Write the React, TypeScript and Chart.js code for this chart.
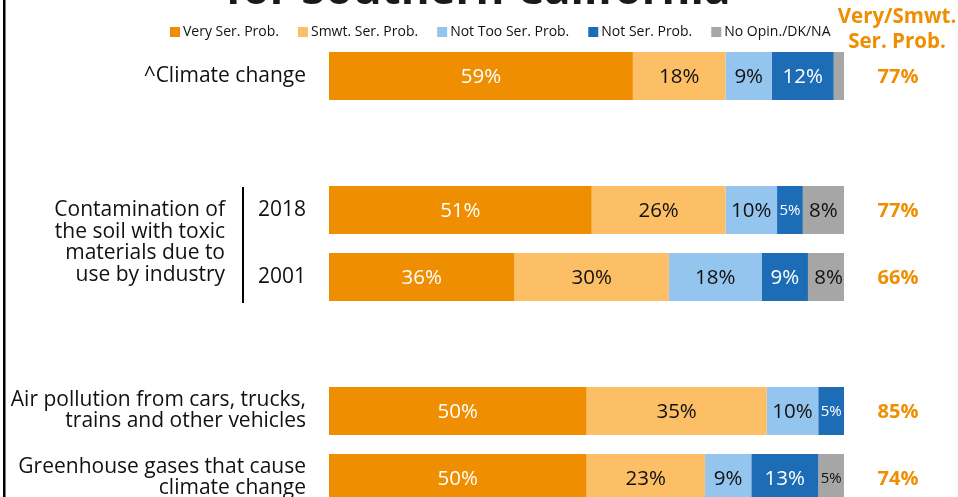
import React, { useEffect, useRef } from "react";
import { Chart, registerables } from "chart.js";

Chart.register(...registerables);

const categories: (string | string[])[] = [
  "^Climate change",
  "",
  "2018",
  "2001",
  "",
  ["Air pollution from cars, trucks,", "trains and other vehicles"],
  ["Greenhouse gases that cause", "climate change"],
];
const seriesNames = ["Very Ser. Prob.", "Smwt. Ser. Prob.", "Not Too Ser. Prob.", "Not Ser. Prob.", "No Opin./DK/NA"];
const veryValues = [59, null, 51, 36, null, 50, 50];
const smwtValues = [18, null, 26, 30, null, 35, 23];
const notTooValues = [9, null, 10, 18, null, 10, 9];
const notSerValues = [12, null, 5, 9, null, 5, 13];
const noOpinValues = [2, null, 8, 8, null, 0, 5];
const combinedValues = [77, null, 77, 66, null, 85, 74];
const groupLabel = ["Contamination of", "the soil with toxic", "materials due to", "use by industry"];
const combinedHeader = ["Very/Smwt.", "Ser. Prob."];
const titleText = "for Southern California";

const colors = ["#EF8E00", "#FDBF66", "#94C5EE", "#1C6DB5", "#A6A6A6"];
const labelColors = ["#FFFFFF", "#111111", "#111111", "#FFFFFF", "#111111"];
const FONT = "'Open Sans', sans-serif";

const extrasPlugin = {
  id: "extras",
  afterDatasetsDraw(chart: any) {
    const ctx = chart.ctx;
    const yScale = chart.scales.y;
    ctx.save();
    // segment labels
    chart.data.datasets.forEach((ds: any, di: number) => {
      const meta = chart.getDatasetMeta(di);
      meta.data.forEach((el: any, i: number) => {
        const v = ds.data[i];
        if (v == null || v < 3) return;
        const cx = (el.x + el.base) / 2;
        ctx.fillStyle = labelColors[di];
        ctx.font = `${v <= 5 ? 15 : 20.5}px ${FONT}`;
        ctx.textAlign = "center";
        ctx.textBaseline = "middle";
        ctx.fillText(`${v}%`, cx, el.y + 1);
      });
    });
    // combined column
    ctx.fillStyle = "#EF8E00";
    ctx.font = `bold 20px ${FONT}`;
    ctx.textAlign = "center";
    ctx.textBaseline = "middle";
    combinedValues.forEach((v, i) => {
      if (v == null) return;
      ctx.fillText(`${v}%`, 898, yScale.getPixelForValue(i) + 1);
    });
    ctx.font = `bold 20.5px ${FONT}`;
    ctx.fillText(combinedHeader[0], 897, 17);
    ctx.fillText(combinedHeader[1], 897, 42);
    // legend
    ctx.font = `14px ${FONT}`;
    ctx.textAlign = "left";
    let x = 170;
    seriesNames.forEach((name, i) => {
      ctx.fillStyle = colors[i];
      ctx.fillRect(x, 27, 10, 10);
      ctx.fillStyle = "#111111";
      ctx.fillText(name, x + 13, 32);
      x += 13 + ctx.measureText(name).width + 19;
    });
    // group label and bracket
    const y2018 = yScale.getPixelForValue(2);
    const y2001 = yScale.getPixelForValue(3);
    const mid = (y2018 + y2001) / 2;
    ctx.font = `21px ${FONT}`;
    ctx.textAlign = "right";
    ctx.fillStyle = "#111111";
    const lh = 21.5;
    groupLabel.forEach((line, i) => {
      ctx.fillText(line, 225, mid + (i - (groupLabel.length - 1) / 2) * lh - 1);
    });
    ctx.fillStyle = "#000000";
    ctx.fillRect(242, y2018 - 23, 2, y2001 - y2018 + 49);
    // left border
    ctx.fillRect(3, 0, 2.5, chart.height);
    // title
    ctx.font = `bold 44px ${FONT}`;
    ctx.textAlign = "center";
    ctx.textBaseline = "alphabetic";
    ctx.fillStyle = "#1a1a1a";
    ctx.fillText(titleText, 478, 4);
    ctx.restore();
  },
};

export default function App() {
  const ref = useRef<HTMLCanvasElement | null>(null);
  useEffect(() => {
    if (!ref.current) return;
    const data = [veryValues, smwtValues, notTooValues, notSerValues, noOpinValues];
    const chart = new Chart(ref.current, {
      type: "bar",
      data: {
        labels: categories as any,
        datasets: data.map((d, i) => ({
          label: seriesNames[i],
          data: d as any,
          backgroundColor: colors[i],
          borderWidth: 0,
          categoryPercentage: 1,
          barPercentage: 0.72,
          clip: 0,
        })),
      },
      options: {
        indexAxis: "y",
        responsive: false,
        animation: false,
        layout: { padding: { top: 42.5, bottom: 18.5, right: 114, left: 0 } },
        plugins: { legend: { display: false }, tooltip: { enabled: false }, title: { display: false } },
        scales: {
          x: { stacked: true, min: 0, max: 100, display: false },
          y: {
            stacked: true,
            grid: { display: false, drawTicks: false },
            border: { display: false },
            ticks: {
              autoSkip: false,
              padding: 23,
              color: "#111111",
              font: { family: FONT, size: 21, lineHeight: 1.0 },
            },
            afterFit: (scale: any) => {
              scale.width = 329;
              scale.paddingTop = 0;
              scale.paddingBottom = 0;
            },
          },
        },
      },
      plugins: [extrasPlugin],
    });
    return () => chart.destroy();
  }, []);
  return (
    <div style={{ position: "fixed", left: 0, top: 0, width: 958, height: 497, overflow: "hidden", background: "#fff" }}>
      <canvas ref={ref} width={958} height={530} style={{ width: 958, height: 530, display: "block" }} />
    </div>
  );
}
